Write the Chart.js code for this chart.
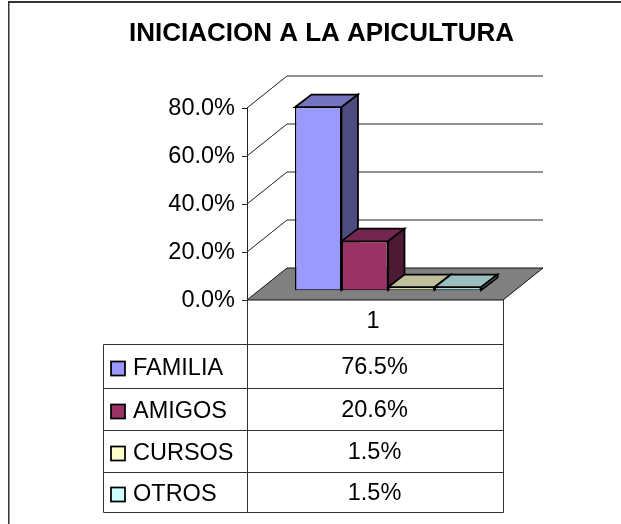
<!DOCTYPE html>
<html><head><meta charset="utf-8">
<style>html,body{margin:0;padding:0;background:#fff}#w{position:relative;width:621px;height:524px}</style>
<script src="https://cdn.jsdelivr.net/npm/chart.js@4"></script>
</head><body><div id="w"><canvas id="c" width="621" height="524"></canvas></div>
<script>
const chartTitle = 'INICIACION A LA APICULTURA';
const categories = ['1'];
const seriesNames = ['FAMILIA', 'AMIGOS', 'CURSOS', 'OTROS'];
const seriesValues = [76.5, 20.6, 1.5, 1.5];
const frontColors = ['#9999ff', '#993366', '#ffffcc', '#ccffff'];
const topColors = ['#7373bf', '#732650', '#bfbf99', '#99bfbf'];
const sideColors = ['#4d4d80', '#4d1a33', '#808066', '#668080'];
const fontName = '"Liberation Sans", Arial, sans-serif';
const wallDx = 40, wallDy = -32, depthDx = 16.5, depthDy = -12.7, barDx = 13, barDy = -9.2;

function poly(ctx, pts, fill, stroke, lw) {
  ctx.beginPath();
  pts.forEach((p, i) => i ? ctx.lineTo(p[0], p[1]) : ctx.moveTo(p[0], p[1]));
  ctx.closePath();
  if (fill) { ctx.fillStyle = fill; ctx.fill(); }
  if (stroke) { ctx.strokeStyle = stroke; ctx.lineWidth = lw; ctx.lineJoin = 'miter'; ctx.stroke(); }
}
const scene = {
  id: 'scene',
  beforeDraw(chart) {
    const c = chart.ctx, a = chart.chartArea, y = chart.scales.y;
    c.save();
    c.strokeStyle = '#333'; c.lineWidth = 1.5;
    c.beginPath(); c.moveTo(8.75, 524); c.lineTo(8.75, 2); c.stroke();
    c.lineWidth = 2;
    c.beginPath(); c.moveTo(8, 2); c.lineTo(621, 2); c.stroke();
    c.strokeStyle = '#222'; c.lineWidth = 1;
    y.ticks.forEach(t => {
      const py = y.getPixelForValue(t.value);
      if (t.value > 0) {
        c.beginPath();
        c.moveTo(a.left, py); c.lineTo(a.left + wallDx, py + wallDy); c.lineTo(a.right + wallDx, py + wallDy);
        c.stroke();
      }
    });
    const b = y.getPixelForValue(0);
    poly(c, [[a.left, b], [a.right, b], [a.right + wallDx, b + wallDy], [a.left + wallDx, b + wallDy]], '#808080', '#111', 1);
    // data table
    c.strokeStyle = '#333'; c.lineWidth = 1;
    const L = 103.5, M = a.left + .5, R = a.right + .5, rows = [344.5, 388.5, 430.5, 472.5, 512.5];
    c.beginPath();
    rows.forEach(r => { c.moveTo(L, r); c.lineTo(R, r); });
    c.moveTo(L, rows[0]); c.lineTo(L, rows[4]);
    c.moveTo(M, b); c.lineTo(M, rows[4]);
    c.moveTo(R, b); c.lineTo(R, rows[4]);
    c.stroke();
    c.textBaseline = 'middle';
    seriesNames.forEach((n, i) => {
      const cy = (rows[i] + rows[i + 1]) / 2;
      c.textAlign = 'left'; c.fillStyle = '#000';
      c.font = '23.5px ' + fontName;
      c.fillText(n, 133, cy + 2);
      c.textAlign = 'center';
      c.fillText(seriesValues[i].toFixed(1) + '%', (M + R) / 2 - 1, cy + 1);
      c.fillStyle = frontColors[i]; c.strokeStyle = '#000'; c.lineWidth = 1.75;
      c.fillRect(111, cy - 5, 14, 14); c.strokeRect(111, cy - 5, 14, 14);
    });
    c.restore();
  },
  beforeDatasetsDraw(chart) {
    const c = chart.ctx;
    c.save(); c.translate(barDx, barDy);
    seriesNames.forEach((n, i) => {
      const el = chart.getDatasetMeta(i).data[0];
      const l = el.x - el.width / 2, r = el.x + el.width / 2, t = el.y, b = el.base;
      const dx = depthDx, dy = depthDy;
      poly(c, [[l, t], [r, t], [r + dx, t + dy], [l + dx, t + dy]], topColors[i], '#000', 1.75);
      poly(c, [[r, t], [r + dx, t + dy], [r + dx, b + dy], [r, b]], sideColors[i], '#000', 1.75);
    });
  },
  afterDatasetsDraw(chart) { chart.ctx.restore(); }
};
new Chart(document.getElementById('c'), {
  type: 'bar',
  data: {
    labels: categories,
    datasets: seriesNames.map((n, i) => ({
      label: n, data: [seriesValues[i]],
      backgroundColor: frontColors[i], borderColor: '#000',
      borderWidth: { top: 1, bottom: 1, left: 1.5, right: 1.5 }, borderSkipped: false, clip: false,
      categoryPercentage: 0.727, barPercentage: 1
    }))
  },
  options: {
    responsive: false, animation: false,
    layout: { padding: { left: 22, right: 0, top: 0, bottom: 190 } },
    plugins: {
      legend: { display: false }, tooltip: { enabled: false },
      title: { display: true, text: chartTitle, color: '#000', font: { family: fontName, size: 26, weight: 'bold' }, padding: { top: 18, bottom: 58.8 } }
    },
    scales: {
      x: {
        grid: { display: false }, border: { display: false },
        ticks: { color: '#000', font: { family: fontName, size: 23.5 }, padding: -1, labelOffset: -2 },
        afterFit(s) { s.height = 34; }
      },
      y: {
        min: 0, max: 80,
        grid: { drawOnChartArea: false, color: '#222', tickLength: 5 },
        border: { display: true, color: '#222' },
        ticks: { stepSize: 20, color: '#000', font: { family: fontName, size: 23.5 }, padding: 7, labelOffset: 1, callback: v => v.toFixed(1) + '%' },
        afterFit(s) { s.width = 225; }
      },
      spacer: {
        position: 'right', grid: { display: false }, border: { display: false }, ticks: { display: false },
        afterFit(s) { s.width = 118; }
      }
    }
  },
  plugins: [scene]
});
</script></body></html>
